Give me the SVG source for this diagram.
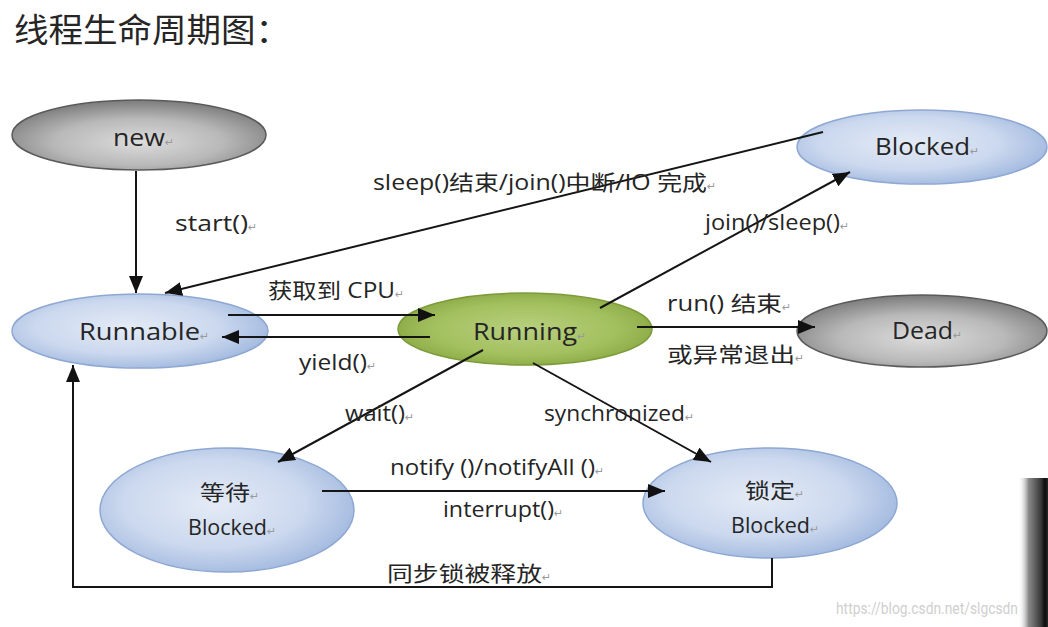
<svg xmlns="http://www.w3.org/2000/svg" width="1048" height="627" viewBox="0 0 1048 627">
<style>
.t{font-family:"Open Sans","Noto Sans CJK SC",sans-serif;font-size:21px;fill:#252525}
.n{font-size:23px}
.pm{font-family:"DejaVu Sans",sans-serif;font-size:11px;fill:#9a9a9a}
.ln{fill:none;stroke:#151515;stroke-width:2}
.ar{marker-end:url(#ah)}
.blue{fill:url(#gBlue);stroke:#8ea8d3;stroke-width:1.5}
.gray{fill:url(#gGray);stroke:#5a5a5a;stroke-width:1.5}
.green{fill:url(#gGreen);stroke:#7c9b3a;stroke-width:1.5}
</style>
<defs>
<radialGradient id="gBlue" cx="0.45" cy="0.45" r="0.6">
<stop offset="0" stop-color="#e4ebf6"/>
<stop offset="0.6" stop-color="#cbd8ee"/>
<stop offset="1" stop-color="#9fb7de"/>
</radialGradient>
<radialGradient id="gGray" cx="0.5" cy="0.6" r="0.6">
<stop offset="0" stop-color="#dcdcdc"/>
<stop offset="0.55" stop-color="#b9b9b9"/>
<stop offset="1" stop-color="#7b7b7b"/>
</radialGradient>
<radialGradient id="gGreen" cx="0.5" cy="0.5" r="0.6">
<stop offset="0" stop-color="#b8d07f"/>
<stop offset="0.6" stop-color="#a3c05e"/>
<stop offset="1" stop-color="#82a23c"/>
</radialGradient>
<linearGradient id="gBar" x1="0" y1="0" x2="1" y2="0">
<stop offset="0" stop-color="#ffffff" stop-opacity="0"/>
<stop offset="0.35" stop-color="#8a8a8a"/>
<stop offset="0.75" stop-color="#3c3c3c"/>
<stop offset="0.9" stop-color="#0c0c0c"/>
<stop offset="1" stop-color="#2a2a2a"/>
</linearGradient>
<marker id="ah" markerUnits="userSpaceOnUse" markerWidth="18" markerHeight="14" refX="17" refY="7" orient="auto">
<path d="M0,0 L17,7 L0,14 z" fill="#111"/>
</marker>
</defs>
<rect width="1048" height="627" fill="#ffffff"/>
<text x="14" y="42" style="font-family:'Noto Sans CJK SC',sans-serif;font-size:33px;fill:#262626" textLength="276" lengthAdjust="spacingAndGlyphs">线程生命周期图：</text>

<g id="node-new"><ellipse class="gray" cx="139" cy="135" rx="127" ry="35"/><text class="t n" x="113" y="146"><tspan textLength="52" lengthAdjust="spacingAndGlyphs">new</tspan><tspan class="pm">↵</tspan></text></g>
<g id="node-blocked"><ellipse class="blue" cx="922" cy="147" rx="125" ry="37"/><text class="t n" x="875" y="155"><tspan textLength="95" lengthAdjust="spacingAndGlyphs">Blocked</tspan><tspan class="pm">↵</tspan></text></g>
<g id="node-runnable"><ellipse class="blue" cx="140" cy="331" rx="128" ry="37"/><text class="t n" x="79" y="340"><tspan textLength="121" lengthAdjust="spacingAndGlyphs">Runnable</tspan><tspan class="pm">↵</tspan></text></g>
<g id="node-running"><ellipse class="green" cx="525" cy="329" rx="127" ry="36"/><text class="t n" x="473" y="340"><tspan textLength="104" lengthAdjust="spacingAndGlyphs">Running</tspan><tspan class="pm">↵</tspan></text></g>
<g id="node-dead"><ellipse class="gray" cx="922" cy="331" rx="125" ry="36"/><text class="t n" x="892" y="339"><tspan textLength="61" lengthAdjust="spacingAndGlyphs">Dead</tspan><tspan class="pm">↵</tspan></text></g>
<g id="node-waiting"><ellipse class="blue" cx="227" cy="510" rx="127" ry="62"/><text class="t" x="200" y="500"><tspan textLength="50" lengthAdjust="spacingAndGlyphs">等待</tspan><tspan class="pm">↵</tspan></text><text class="t" x="188" y="535"><tspan textLength="79" lengthAdjust="spacingAndGlyphs">Blocked</tspan><tspan class="pm">↵</tspan></text></g>
<g id="node-locked"><ellipse class="blue" cx="770" cy="503" rx="127" ry="55"/><text class="t" x="745" y="498"><tspan textLength="50" lengthAdjust="spacingAndGlyphs">锁定</tspan><tspan class="pm">↵</tspan></text><text class="t" x="731" y="533"><tspan textLength="79" lengthAdjust="spacingAndGlyphs">Blocked</tspan><tspan class="pm">↵</tspan></text></g>

<g id="connectors">
<path class="ln ar" d="M136,171 L136,293"/>
<path class="ln ar" d="M823,132 L165,293"/>
<path class="ln ar" d="M600,308 L850,172"/>
<path class="ln ar" d="M228,315 L435,315"/>
<path class="ln ar" d="M430,337 L222,337"/>
<path class="ln ar" d="M637,327 L815,327"/>
<path class="ln ar" d="M483,350 L278,462"/>
<path class="ln ar" d="M533,363 L711,462"/>
<path class="ln ar" d="M322,491 L665,491"/>
<path class="ln ar" d="M772,558 L772,587 L73,587 L73,365"/>
<text class="t" x="175" y="231"><tspan textLength="73" lengthAdjust="spacingAndGlyphs">start()</tspan><tspan class="pm">↵</tspan></text>
<text class="t" x="373" y="190"><tspan textLength="334" lengthAdjust="spacingAndGlyphs">sleep()结束/join()中断/IO 完成</tspan><tspan class="pm">↵</tspan></text>
<text class="t" x="705" y="230"><tspan textLength="135" lengthAdjust="spacingAndGlyphs">join()/sleep()</tspan><tspan class="pm">↵</tspan></text>
<text class="t" x="268" y="298"><tspan textLength="127" lengthAdjust="spacingAndGlyphs">获取到 CPU</tspan><tspan class="pm">↵</tspan></text>
<text class="t" x="299" y="370"><tspan textLength="68" lengthAdjust="spacingAndGlyphs">yield()</tspan><tspan class="pm">↵</tspan></text>
<text class="t" x="667" y="311"><tspan textLength="115" lengthAdjust="spacingAndGlyphs">run()  结束</tspan><tspan class="pm">↵</tspan></text>
<text class="t" x="667" y="362"><tspan textLength="128" lengthAdjust="spacingAndGlyphs">或异常退出</tspan><tspan class="pm">↵</tspan></text>
<text class="t" x="345" y="421"><tspan textLength="60" lengthAdjust="spacingAndGlyphs">wait()</tspan><tspan class="pm">↵</tspan></text>
<text class="t" x="544" y="421"><tspan textLength="141" lengthAdjust="spacingAndGlyphs">synchronized</tspan><tspan class="pm">↵</tspan></text>
<text class="t" x="390" y="475"><tspan textLength="205" lengthAdjust="spacingAndGlyphs">notify ()/notifyAll ()</tspan><tspan class="pm">↵</tspan></text>
<text class="t" x="443" y="517"><tspan textLength="111" lengthAdjust="spacingAndGlyphs">interrupt()</tspan><tspan class="pm">↵</tspan></text>
<text class="t" x="387" y="581"><tspan textLength="155" lengthAdjust="spacingAndGlyphs">同步锁被释放</tspan><tspan class="pm">↵</tspan></text>
</g>

<rect x="1018" y="478" width="30" height="149" fill="url(#gBar)"/>
<text x="836" y="614" style="font-family:Roboto,'Liberation Sans',sans-serif;font-size:16px;fill:#cfcfcf" textLength="182" lengthAdjust="spacingAndGlyphs">https://blog.csdn.net/slgcsdn</text>
</svg>
